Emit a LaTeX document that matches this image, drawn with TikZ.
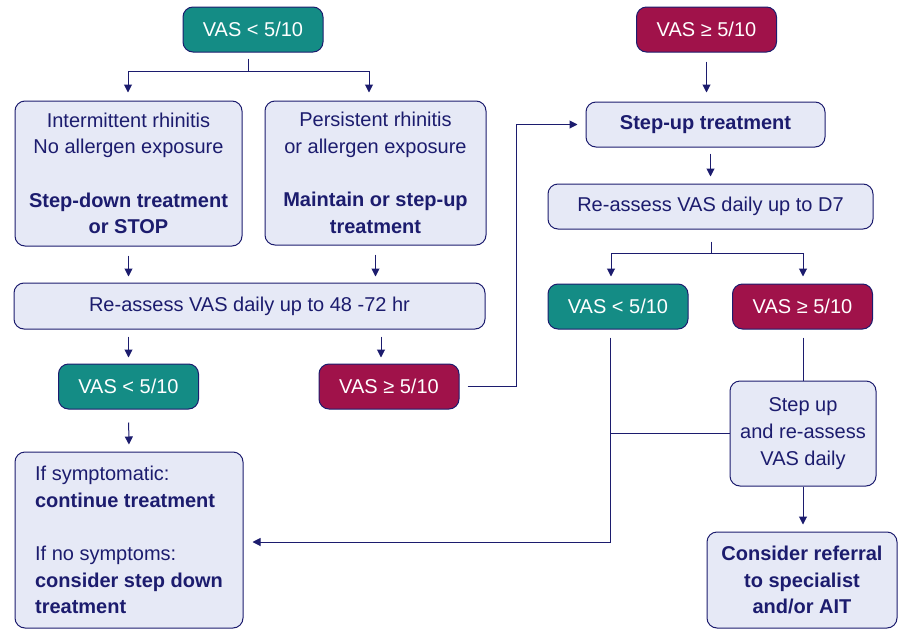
\documentclass[tikz,border=0pt]{standalone}
\usepackage{fontspec}
\setmainfont{Liberation Sans}
\usetikzlibrary{arrows.meta}
\definecolor{navy}{RGB}{28,28,110}
\definecolor{vasteal}{RGB}{20,140,133}
\definecolor{vasred}{RGB}{160,18,74}
\definecolor{boxfill}{RGB}{230,233,246}
\begin{document}
\begin{tikzpicture}[x=0.75pt,y=0.75pt,yscale=-1,xscale=1,
  font=\fontsize{15}{20}\selectfont,
  box/.style={draw=navy, line width=0.75pt, rounded corners=7.5pt, fill=boxfill, text=navy, align=center, inner sep=0pt},
  low/.style={box, fill=vasteal, text=white, minimum width=105pt, minimum height=33.75pt},
  high/.style={box, fill=vasred, text=white, minimum width=105pt, minimum height=33.75pt},
  link/.style={draw=navy, line width=0.75pt},
  flow/.style={link, -{Triangle[length=6pt,width=6pt]}}]
\useasboundingbox (0,0) rectangle (901,629);

% left column
\node[low] (lowTop) at (253,29.5) {VAS < 5/10};
\node[box, minimum width=170.25pt, minimum height=108.75pt] (inter) at (128.5,173.5)
  {Intermittent rhinitis\\ No allergen exposure\\[20pt] \textbf{Step-down treatment}\\ \textbf{or STOP}};
\node[box, minimum width=165.75pt, minimum height=108pt] (persist) at (375.5,173)
  {Persistent rhinitis\\ or allergen exposure\\[20pt] \textbf{Maintain or step-up}\\ \textbf{treatment}};
\node[box, minimum width=353.25pt, minimum height=34.5pt] (reassA) at (249.5,306) {Re-assess VAS daily up to 48 -72 hr};
\node[low] (lowA) at (128.5,386.5) {VAS < 5/10};
\node[high] (highA) at (389,386.5) {VAS ≥ 5/10};
\node[box, align=left, minimum width=171pt, minimum height=132pt] (keep) at (129,540)
  {If symptomatic:\\ \textbf{continue treatment}\\[20pt] If no symptoms:\\ \textbf{consider step down}\\ \textbf{treatment}};

% right column
\node[high] (highTop) at (706.5,29.5) {VAS ≥ 5/10};
\node[box, minimum width=179.25pt, minimum height=33.75pt] (stepup) at (705.5,124.5) {\textbf{Step-up treatment}};
\node[box, minimum width=243.75pt, minimum height=33.75pt] (reassB) at (710.5,206.5) {Re-assess VAS daily up to D7};
\node[low] (lowB) at (618,306.5) {VAS < 5/10};
\node[high] (highB) at (802.5,306.5) {VAS ≥ 5/10};
\node[box, minimum width=109.5pt, minimum height=78.75pt] (stepre) at (803,433.5) {Step up\\ and re-assess\\ VAS daily};
\node[box, minimum width=142.5pt, minimum height=72pt] (refer) at (802,580)
  {\textbf{Consider referral}\\ \textbf{to specialist}\\ \textbf{and/or AIT}};

% split points
\coordinate (lowSplit) at (248,71);
\coordinate (lowL) at (128,71);
\coordinate (lowR) at (369,71);
\coordinate (bendUp) at (516,124.5);
\coordinate (highSplit) at (711,253);
\coordinate (highL) at (611,253);
\coordinate (highR) at (803,253);
\coordinate (backTurn) at (610,542);

% connectors, left
\draw[link, shorten <=4.5pt] (lowTop.south -| lowSplit) -- (lowSplit);
\draw[link] (lowL) -- (lowR);
\draw[flow, shorten >=6pt] (lowL) -- (lowL |- inter.north);
\draw[flow, shorten >=6pt] (lowR) -- (lowR |- persist.north);
\draw[flow, shorten <=6.75pt, shorten >=4.5pt] (inter.south) -- (inter.south |- reassA.north);
\draw[flow, shorten <=6.75pt, shorten >=4.5pt] (persist.south) -- (persist.south |- reassA.north);
\draw[flow, shorten <=5.25pt, shorten >=4.5pt] (reassA.south -| lowA) -- (lowA.north);
\draw[flow, shorten <=5.25pt, shorten >=4.5pt] ([xshift=-6pt]highA.north |- reassA.south) -- ([xshift=-6pt]highA.north);
\draw[flow, shorten <=9.75pt, shorten >=5.25pt] (lowA.south) -- (keep.north);
\draw[flow, shorten <=6pt, shorten >=6pt] (highA.east) -| (bendUp) -- (stepup.west);

% connectors, right
\draw[flow, shorten <=6.75pt, shorten >=6.75pt] (highTop.south) -- (highTop.south |- stepup.north);
\draw[flow, shorten <=4.5pt, shorten >=5.25pt] (stepup.south -| reassB) -- (reassB.north);
\draw[link, shorten <=9pt] (reassB.south -| highSplit) -- (highSplit);
\draw[link] (highL) -- (highR);
\draw[flow, shorten >=5.25pt] (highL) -- (highL |- lowB.north);
\draw[flow, shorten >=5.25pt] (highR) -- (highR |- highB.north);
\draw[link, shorten <=6pt] (highB.south -| stepre) -- (stepre.north);
\draw[flow, shorten <=6pt, shorten >=6.75pt] (lowB.south -| backTurn) -- (backTurn) -- (keep.east |- backTurn);
\draw[link] (stepre.west) -- (stepre.west -| backTurn);
\draw[flow, shorten >=5.25pt] (stepre.south) -- (stepre.south |- refer.north);

\end{tikzpicture}
\end{document}
